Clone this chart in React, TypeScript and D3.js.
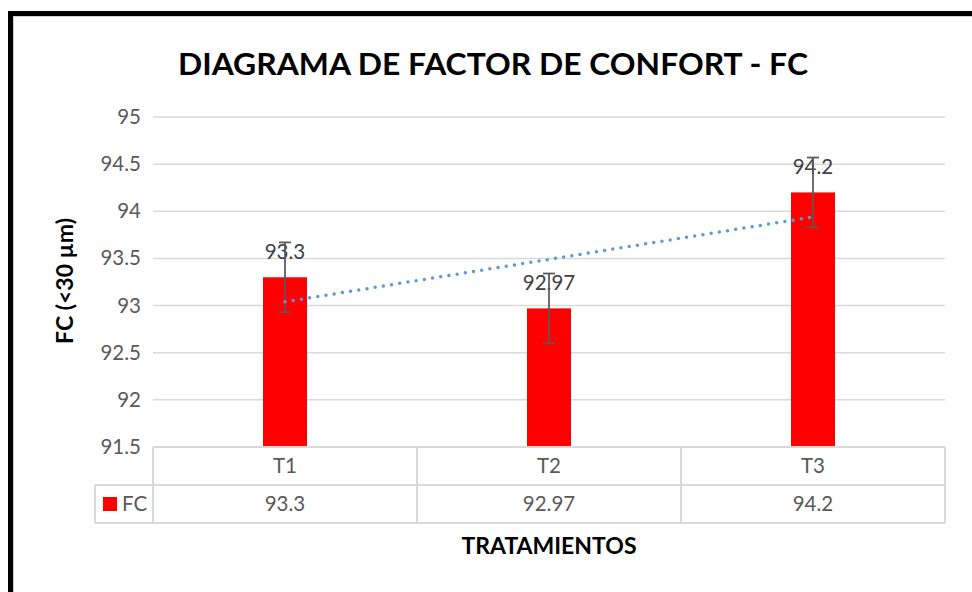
import React from "react";
import * as d3 from "d3";

const categories = ["T1", "T2", "T3"];
const values = [93.3, 92.97, 94.2];
const valueLabels = ["93.3", "92.97", "94.2"];
const errors = [0.37, 0.37, 0.37];
const yTicks = [91.5, 92, 92.5, 93, 93.5, 94, 94.5, 95];
const seriesName = "FC";
const title = "DIAGRAMA DE FACTOR DE CONFORT - FC";
const yTitle = "FC (<30 µm)";
const xTitle = "TRATAMIENTOS";

const W = 972;
const H = 592;
const FONT = "Lato, 'Open Sans', sans-serif";
const GRID = "#D9D9D9";
const TXT = "#595959";
const FS = 20.5;

export default function App() {
  const left = 153, right = 945, top = 117, bottom = 447;
  const y = d3.scaleLinear().domain([91.5, 95]).range([bottom, top]);
  const x = d3.scaleBand<string>().domain(categories).range([left, right]).paddingInner(0).paddingOuter(0);
  const bw = x.bandwidth() / 6;
  const cx = (c: string) => (x(c) as number) + x.bandwidth() / 2;

  // linear trendline (least squares)
  const n = values.length;
  const xs = values.map((_, i) => i + 1);
  const mx = d3.mean(xs) as number;
  const my = d3.mean(values) as number;
  const slope = d3.sum(xs.map((xi, i) => (xi - mx) * (values[i] - my))) / d3.sum(xs.map((xi) => (xi - mx) ** 2));
  const icpt = my - slope * mx;
  const trend = d3.line<number>()
    .x((i) => cx(categories[i]))
    .y((i) => y(icpt + slope * (i + 1)));

  const row1 = bottom, row2 = 485, row3 = 523, legendLeft = 95;

  return (
    <svg width={W} height={H} style={{ position: "absolute", left: 0, top: 0, background: "#fff" }}>
      <rect x={0} y={0} width={W} height={H} fill="#fff" />
      {/* frame */}
      <path d={`M10.5,${H + 10} L10.5,13.5 L${W + 10},13.5`} fill="none" stroke="#000" strokeWidth={5} />
      <path d={`M13.5,${H + 10} L13.5,16.5 L${W + 10},16.5`} fill="none" stroke="#D0D0D0" strokeWidth={1} />

      <text x={493} y={75} textAnchor="middle" fontFamily={FONT} fontWeight="bold" fontSize={31} fill="#000"
        textLength={630} lengthAdjust="spacingAndGlyphs">{title}</text>

      {/* gridlines */}
      {yTicks.map((t) => (
        <line key={t} x1={left} x2={right} y1={y(t)} y2={y(t)} stroke={GRID} strokeWidth={1.5} />
      ))}
      {yTicks.map((t) => (
        <text key={"l" + t} x={141} y={y(t) + 7} textAnchor="end" fontFamily={FONT} fontSize={FS} fill={TXT}>{t}</text>
      ))}

      {/* bars */}
      {categories.map((c, i) => (
        <rect key={c} x={cx(c) - bw / 2} y={y(values[i])} width={bw} height={bottom - y(values[i])} fill="#FF0000" />
      ))}

      {/* data labels */}
      {categories.map((c, i) => (
        <text key={"d" + c} x={cx(c)} y={y(values[i]) - 18} textAnchor="middle" fontFamily={FONT} fontSize={FS} fill="#404040">{valueLabels[i]}</text>
      ))}

      {/* error bars */}
      {categories.map((c, i) => {
        const yt = y(values[i] + errors[i]);
        const yb = y(values[i] - errors[i]);
        const xc = cx(c);
        return (
          <g key={"e" + c} stroke="#595959" strokeWidth={1.75}>
            <line x1={xc} x2={xc} y1={yt} y2={yb} />
            <line x1={xc - 6} x2={xc + 6} y1={yt} y2={yt} />
            <line x1={xc - 6} x2={xc + 6} y1={yb} y2={yb} />
          </g>
        );
      })}

      {/* trendline */}
      <path d={trend([0, n - 1]) as string} fill="none" stroke="#5B9BD5" strokeWidth={3.5}
        strokeDasharray="0 8.3" strokeLinecap="round" />

      {/* data table */}
      <g stroke={GRID} strokeWidth={2} fill="none">
        <line x1={left} x2={right} y1={row1} y2={row1} />
        <line x1={legendLeft} x2={right} y1={row2} y2={row2} />
        <line x1={legendLeft} x2={right} y1={row3} y2={row3} />
        <line x1={legendLeft} x2={legendLeft} y1={row2} y2={row3} />
        {categories.map((c) => (
          <line key={"v" + c} x1={x(c) as number} x2={x(c) as number} y1={row1} y2={row3} />
        ))}
        <line x1={right} x2={right} y1={row1} y2={row3} />
      </g>
      {categories.map((c) => (
        <text key={"c" + c} x={cx(c)} y={(row1 + row2) / 2 + 7} textAnchor="middle" fontFamily={FONT} fontSize={FS} fill={TXT}>{c}</text>
      ))}
      {categories.map((c, i) => (
        <text key={"v2" + c} x={cx(c)} y={(row2 + row3) / 2 + 7} textAnchor="middle" fontFamily={FONT} fontSize={FS} fill={TXT}>{valueLabels[i]}</text>
      ))}
      <rect x={103} y={497} width={14} height={14} fill="#FF0000" />
      <text x={122} y={511} fontFamily={FONT} fontSize={FS} fill={TXT}>{seriesName}</text>

      {/* axis titles */}
      <text transform={`translate(73,281) rotate(-90)`} textAnchor="middle" fontFamily={FONT} fontWeight="bold" fontSize={23} fill="#000">{yTitle}</text>
      <text x={549} y={554} textAnchor="middle" fontFamily={FONT} fontWeight="bold" fontSize={23} fill="#000">{xTitle}</text>
    </svg>
  );
}
